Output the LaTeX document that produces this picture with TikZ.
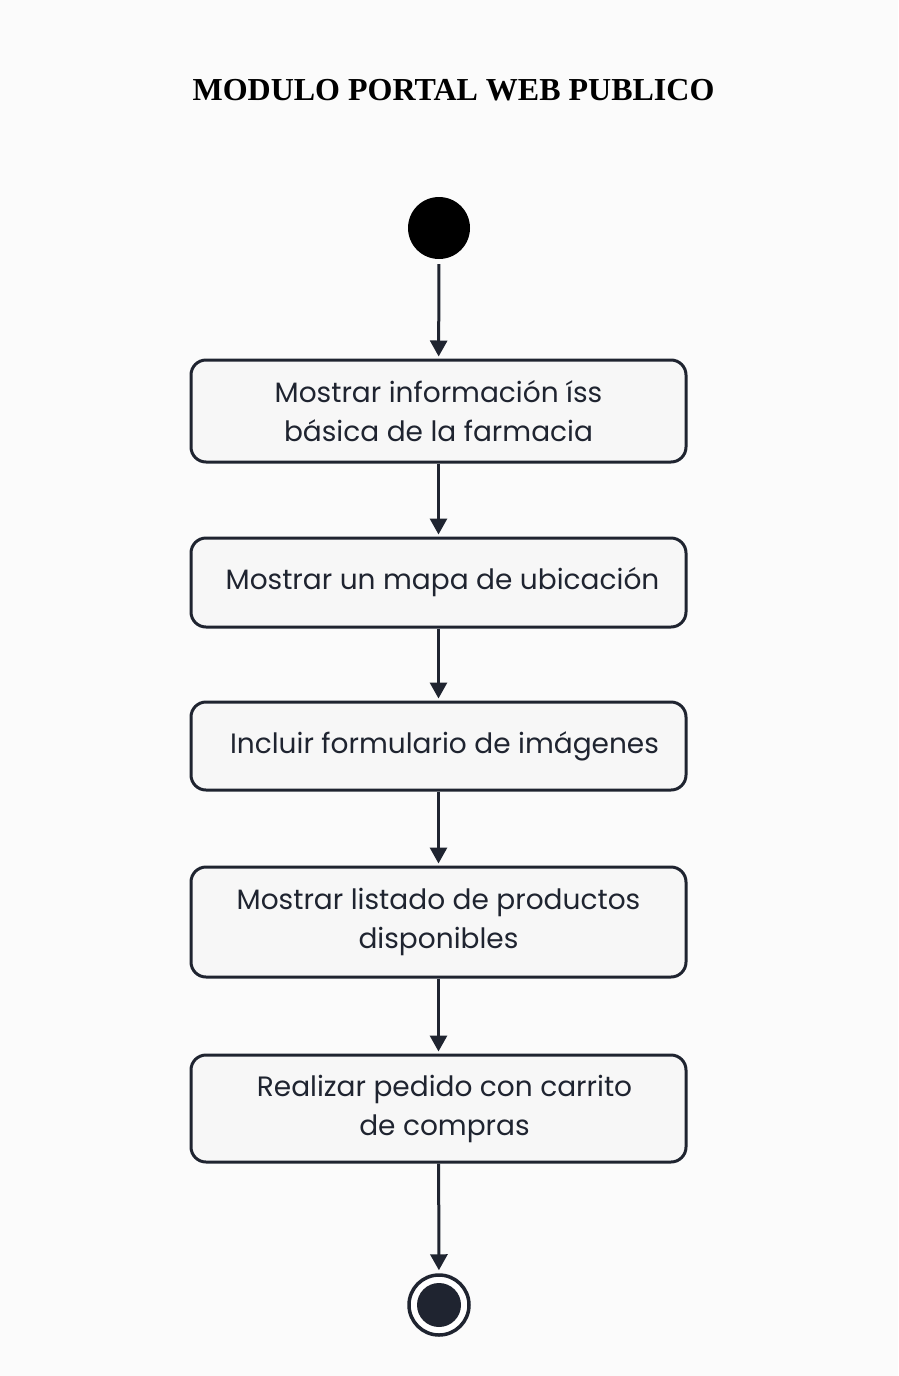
\documentclass[tikz,border=0pt]{standalone}
\usepackage{fontspec}
\setmainfont{Liberation Serif}
\newfontfamily\boxfont{Poppins}
\usetikzlibrary{arrows.meta}
\definecolor{ink}{HTML}{1F2430}
\definecolor{boxfill}{HTML}{F7F7F7}
\definecolor{bg}{HTML}{FBFBFB}
\tikzset{
  actbox/.style={draw=ink, line width=3pt, fill=boxfill, rounded corners=15pt,
    minimum width=495pt, align=center, text=ink, inner sep=0pt,
    font=\boxfont\fontsize{28}{39}\selectfont},
  flow/.style={draw=ink, line width=3pt, -{Triangle[length=16pt,width=17pt]}},
}
\begin{document}
\begin{tikzpicture}[x=1pt,y=-1pt]
\fill[bg] (0,0) rectangle (898,1376);
\useasboundingbox (0,0) rectangle (898,1376);
\node[font=\bfseries\fontsize{32}{38}\selectfont] (title) at (453.5,90) {MODULO PORTAL WEB PUBLICO};
\node[circle, fill=black, minimum size=62pt, inner sep=0pt] (start) at (439,228) {};
\node[actbox, minimum height=102pt] (b1) at (438.5,411) {Mostrar información íss\\ básica de la farmacia};
\node[actbox, minimum height=89pt] (b2) at (438.5,582.5) {\hspace*{8pt}Mostrar un mapa de ubicación};
\node[actbox, minimum height=88pt] (b3) at (438.5,746) {\hspace*{12pt}Incluir formulario de imágenes};
\node[actbox, minimum height=110pt] (b4) at (438.5,922) {Mostrar listado de productos\\ disponibles};
\node[actbox, minimum height=107pt] (b5) at (438.5,1108.5) {\hspace*{12pt}Realizar pedido con carrito\\ \hspace*{12pt}de compras};
\node[circle, draw=ink, line width=3.5pt, fill=white, minimum size=60pt, inner sep=0pt] (end) at (439,1305) {};
\fill[ink] (end.center) circle (22pt);
\draw[flow, shorten <=5pt, shorten >=2pt] (start) -- (b1);
\draw[flow, shorten >=2pt] (b1) -- (b2);
\draw[flow, shorten >=2pt] (b2) -- (b3);
\draw[flow, shorten >=2pt] (b3) -- (b4);
\draw[flow, shorten >=2pt] (b4) -- (b5);
\draw[flow, shorten >=3pt] (b5) -- (end);
\end{tikzpicture}
\end{document}
